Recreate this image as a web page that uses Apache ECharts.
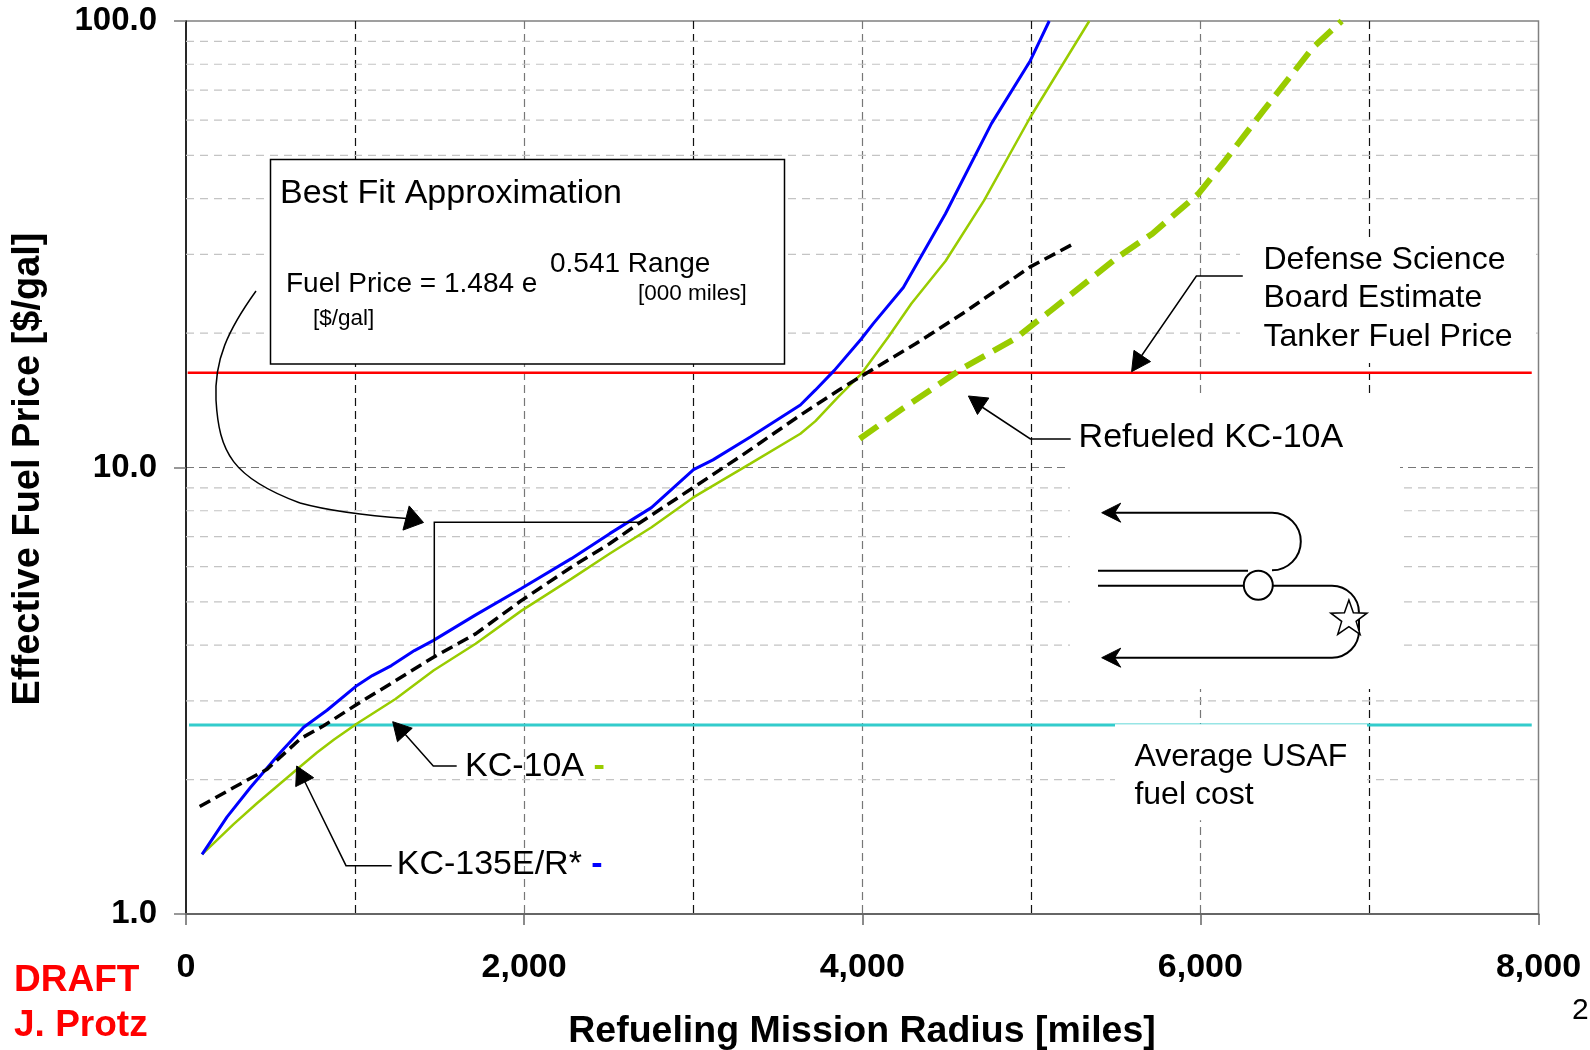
<!DOCTYPE html>
<html><head><meta charset="utf-8">
<script src="https://cdn.jsdelivr.net/npm/echarts@6/dist/echarts.min.js"></script>
<style>html,body{margin:0;padding:0;background:#fff}#c{width:1590px;height:1050px}</style>
</head><body><div id="c"></div>
<script>
// ---- data ----
const kc135Miles = [95,243,381,558,696,834,1012,1102,1215,1351,1464,1711,1983,2279,2506,2753,3002,3117,3338,3634,3722,3835,3994,4065,4243,4492,4764,4994,5106];
const kc135Price = [1.36,1.65,1.92,2.30,2.62,2.86,3.25,3.42,3.60,3.89,4.10,4.67,5.36,6.25,7.11,8.13,9.89,10.4,11.7,13.8,14.9,16.5,19.4,21.0,25.3,37.0,58.9,81.5,100];
const kc10Miles = [95,282,420,657,775,876,1012,1239,1464,1713,1985,2279,2505,2754,3003,3338,3634,3723,3858,3994,4154,4291,4493,4720,4993,5343];
const kc10Price = [1.36,1.59,1.77,2.11,2.30,2.46,2.67,3.03,3.51,4.03,4.78,5.63,6.41,7.35,8.58,10.2,11.9,12.7,14.4,16.2,19.6,23.3,29.0,39.6,60.8,100];
const fitMiles = [81,282,480,677,814,1012,1239,1464,1713,1985,2279,2505,2689,3003,3297,3634,3860,4086,4313,4607,4991,5263];
const fitPrice = [1.74,1.92,2.11,2.47,2.64,2.95,3.33,3.76,4.24,5.04,5.98,6.75,7.54,9.03,10.7,13.1,14.9,16.8,18.9,22.3,28.1,31.9];
const refuelMiles = [3985,4245,4607,4901,5105,5512,5716,5988,6146,6373,6667,6836];
const refuelPrice = [11.6,13.6,16.8,19.4,22.3,29.6,33.4,41.0,48.7,63.0,87.3,100];
const dsbMiles = [10,7960];
const dsbPrice = 16.3;
const usafMiles = [18,7960];
const usafPrice = 2.65;
const yMinorGrid = [2,3,4,5,6,7,8,9,20,30,40,50,60,70,80,90];
const xMin = 0, xMax = 8000, xLabelStep = 2000, xGridStep = 1000;
const yMin = 1, yMax = 100;

// ---- helpers ----
const zip = (a, b) => a.map((v, i) => [v, b[i]]);
const FONT = 'Liberation Sans, Arial, sans-serif';
function arrowHead(tip, from, len, hw) {
  const dx = tip[0]-from[0], dy = tip[1]-from[1], L = Math.hypot(dx, dy);
  const ux = dx/L, uy = dy/L, bx = tip[0]-ux*len, by = tip[1]-uy*len;
  return [[tip[0], tip[1]], [bx - uy*hw, by + ux*hw], [bx + uy*hw, by - ux*hw]];
}
function barbLeft(tx, ty) {
  return [[tx, ty], [tx+19, ty-9.5], [tx+13, ty], [tx+19, ty+9.5]];
}
function starPts(cx, cy, ro, ri) {
  const p = [];
  for (let i = 0; i < 10; i++) {
    const a = -Math.PI/2 + i*Math.PI/5, r = i % 2 ? ri : ro;
    p.push([cx + r*Math.cos(a), cy + r*Math.sin(a)]);
  }
  return p;
}
const gridData = [];
yMinorGrid.forEach(v => { gridData.push([xMin, v], [xMax, v], [xMax, '-']); });

const G = [];
const txt = (x, y, text, size, opts = {}) => G.push(Object.assign({
  type: 'text', x, y, z: 10,
  style: Object.assign({ text, fontSize: size, fontFamily: FONT, fill: '#000', align: 'left', verticalAlign: 'middle' }, opts.style || {})
}, opts.el || {}));
const pline = (pts, w = 1.5) => G.push({ type: 'polyline', z: 10, shape: { points: pts }, style: { stroke: '#000', lineWidth: w, fill: null } });
const poly = (pts, fill = '#000') => G.push({ type: 'polygon', z: 10, shape: { points: pts }, style: { fill, stroke: '#000', lineWidth: 1 } });
const bez = (p1, c1, c2, p2, w = 1.5) => G.push({ type: 'bezierCurve', z: 10,
  shape: { x1: p1[0], y1: p1[1], cpx1: c1[0], cpy1: c1[1], cpx2: c2[0], cpy2: c2[1], x2: p2[0], y2: p2[1] },
  style: { stroke: '#000', lineWidth: w, fill: null } });
const arc = (cx, cy, r, a0, a1, w = 2) => G.push({ type: 'arc', z: 10, shape: { cx, cy, r, startAngle: a0, endAngle: a1, clockwise: true },
  style: { stroke: '#000', lineWidth: w, fill: null } });
const whiteRect = (x, y, w, h) => G.push({ type: 'rect', z: 1.5, shape: { x, y, width: w, height: h }, style: { fill: '#fff' } });

// white backgrounds of text boxes
whiteRect(1240, 238, 296, 125);
whiteRect(1070, 393, 330, 296);
whiteRect(1115, 724.3, 252, 96);
// Best fit box
G.push({ type: 'rect', z: 1.6, shape: { x: 270.5, y: 159.5, width: 514, height: 204.5 }, style: { fill: '#fff', stroke: '#000', lineWidth: 1.5 } });
txt(280, 194, 'Best Fit Approximation', 34);
txt(286, 284, 'Fuel Price = 1.484 e', 28);
txt(550, 264, '0.541 Range', 28);
txt(638, 294, '[000 miles]', 22.5);
txt(313, 319, '[$/gal]', 22.5);
// curved arrow + bracket
bez([256, 291], [228, 330], [214, 360], [216, 400]);
bez([216, 400], [219, 452], [232, 478], [300, 503]);
bez([300, 503], [333, 512], [372, 516], [407, 518.5]);
poly(arrowHead([423.5, 522.5], [406, 518], 18, 12.5));
pline([[640, 522.3], [434.3, 522.3], [434.3, 656.7]]);
// KC-10A label
pline([[456.7, 766], [433.3, 766], [404, 733]]);
poly(arrowHead([392.7, 721.7], [433.3, 766], 18, 10));
G.push({ type: 'text', x: 465, y: 767, z: 10, style: { text: '{a|KC-10A }{g|-}', verticalAlign: 'middle', align: 'left',
  rich: { a: { fontSize: 34, fontFamily: FONT, fill: '#000' }, g: { fontSize: 34, fontFamily: FONT, fill: '#99CC00', fontWeight: 'bold' } } } });
// KC-135 label
pline([[391.7, 865.7], [346, 865.7], [303, 778]]);
poly(arrowHead([296.7, 766], [346, 865.7], 18, 10));
G.push({ type: 'text', x: 396.7, y: 865, z: 10, style: { text: '{a|KC-135E/R* }{g|-}', verticalAlign: 'middle', align: 'left',
  rich: { a: { fontSize: 34, fontFamily: FONT, fill: '#000' }, g: { fontSize: 34, fontFamily: FONT, fill: '#0000FF', fontWeight: 'bold' } } } });
// Refueled KC-10A
pline([[1070.7, 439], [1030.4, 439], [982, 407]]);
poly(arrowHead([968.4, 396], [1030.4, 439], 18, 10));
txt(1078.6, 438, 'Refueled KC-10A', 34);
// DSB
pline([[1242.8, 276], [1196.4, 276], [1140, 358]]);
poly(arrowHead([1131.6, 371.7], [1196.4, 276], 19, 10));
txt(1263.5, 298.5, 'Defense Science\nBoard Estimate\nTanker Fuel Price', 32, { style: { lineHeight: 38.3 } });
// Average USAF
txt(1134.4, 776, 'Average USAF\nfuel cost', 32, { style: { lineHeight: 38 } });
// mission diagram
pline([[1272, 512.7], [1112, 512.7]], 2);
poly(barbLeft(1101.7, 512.7));
arc(1272, 541.5, 28.8, -Math.PI/2, Math.PI/2);
pline([[1098, 570.7], [1248, 570.7]], 2);
pline([[1098, 585.7], [1244, 585.7]], 2);
pline([[1272.5, 585.7], [1332, 585.7]], 2);
arc(1332, 612.7, 27, -Math.PI/2, 0);
pline([[1359, 612.7], [1359, 630.7]], 2);
arc(1332, 630.7, 27, 0, Math.PI/2);
pline([[1332, 657.7], [1112, 657.7]], 2);
poly(barbLeft(1101.7, 657.7));
G.push({ type: 'circle', z: 10, shape: { cx: 1258.3, cy: 585.3, r: 14.5 }, style: { fill: '#fff', stroke: '#000', lineWidth: 2 } });
G.push({ type: 'polygon', z: 11, shape: { points: starPts(1348.9, 619, 19, 7.6) }, style: { fill: '#fff', stroke: '#000', lineWidth: 1.5 } });
// axis titles & notes
G.push({ type: 'text', x: 29, y: 469, rotation: Math.PI/2, z: 10, style: { text: 'Effective Fuel Price [$/gal]', fontSize: 38, fontWeight: 'bold', fontFamily: FONT, fill: '#000', align: 'center', verticalAlign: 'middle' } });
txt(862, 1032, 'Refueling Mission Radius [miles]', 37.5, { style: { fontWeight: 'bold', align: 'center' } });
txt(14, 981, 'DRAFT', 37, { style: { fontWeight: 'bold', fill: '#FF0000' } });
txt(14, 1026, 'J. Protz', 37, { style: { fontWeight: 'bold', fill: '#FF0000' } });
txt(1572, 1011, '2', 30);

const chart = echarts.init(document.getElementById('c'), null, { renderer: 'canvas' });
chart.setOption({
  animation: false,
  backgroundColor: '#fff',
  grid: { left: 186, top: 21, right: 51.5, bottom: 136, show: true, borderColor: '#808080', borderWidth: 1.5, backgroundColor: 'transparent' },
  xAxis: [{
    type: 'value', min: xMin, max: xMax, interval: xLabelStep,
    axisLine: { show: true, onZero: false, lineStyle: { color: '#666', width: 2 } },
    axisTick: { show: true, length: 11, lineStyle: { color: '#666', width: 1.5 } },
    axisLabel: { margin: 37, fontSize: 34, fontWeight: 'bold', fontFamily: FONT, color: '#000', formatter: v => v.toLocaleString('en-US') },
    splitLine: { show: false }
  }, {
    type: 'value', min: xMin, max: xMax, interval: xGridStep, position: 'bottom',
    axisLine: { show: false }, axisTick: { show: false }, axisLabel: { show: false },
    splitLine: { show: true, showMinLine: false, showMaxLine: false, lineStyle: { color: ['#111', '#777'], width: 1.2, type: [8, 5] } }
  }],
  yAxis: {
    type: 'log', logBase: 10, min: yMin, max: yMax,
    axisLine: { show: true, lineStyle: { color: '#000', width: 1.5 } },
    axisTick: { show: true, length: 12, lineStyle: { color: '#777', width: 1.5 } },
    axisLabel: { margin: 29, fontSize: 33, fontWeight: 'bold', fontFamily: FONT, color: '#000', formatter: v => Number(v).toFixed(1) },
    splitLine: { show: true, showMinLine: false, showMaxLine: false, lineStyle: { color: '#777', width: 1.2, type: [8, 5] } }
  },
  graphic: G,
  series: [
    { name: 'minor grid', type: 'line', z: 1, data: gridData, symbol: 'none', silent: true, connectNulls: false,
      lineStyle: { color: '#c4c4c4', width: 1.2, type: [8, 6] } },
    { name: 'Average USAF fuel cost', type: 'line', z: 1.2, data: usafMiles.map(m => [m, usafPrice]), symbol: 'none',
      lineStyle: { color: '#33CCCC', width: 3 } },
    { name: 'DSB Tanker Fuel Price', type: 'line', z: 2, data: dsbMiles.map(m => [m, dsbPrice]), symbol: 'none',
      lineStyle: { color: '#FF0000', width: 2.5 } },
    { name: 'KC-10A', type: 'line', z: 3, data: zip(kc10Miles, kc10Price), symbol: 'none',
      lineStyle: { color: '#99CC00', width: 2.5 } },
    { name: 'KC-135E/R*', type: 'line', z: 3, data: zip(kc135Miles, kc135Price), symbol: 'none',
      lineStyle: { color: '#0000FF', width: 3 } },
    { name: 'Best Fit', type: 'line', z: 4, data: zip(fitMiles, fitPrice), symbol: 'none',
      lineStyle: { color: '#000', width: 3.5, type: [12, 6] } },
    { name: 'Refueled KC-10A', type: 'line', z: 3, data: zip(refuelMiles, refuelPrice), symbol: 'none',
      lineStyle: { color: '#99CC00', width: 6, type: [22, 10] } }
  ]
});
</script></body></html>
